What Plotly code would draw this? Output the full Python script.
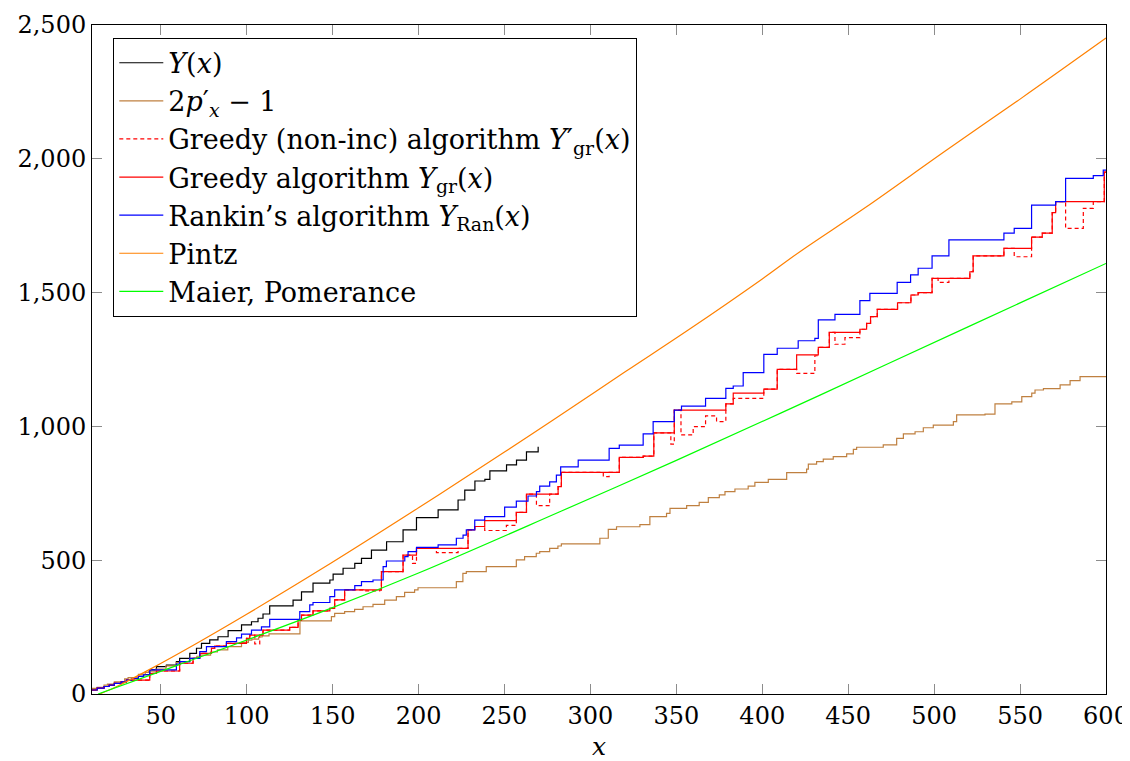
import plotly.graph_objects as go

# ---------------- data ----------------
# Y(x)  (step function, value holds from x[i] to x[i+1])
Y_x = [10, 13, 17, 20, 23, 27, 30, 33, 37, 40, 43.6, 47.5, 53.3, 59.1, 61.0, 66.9, 70.8, 73.7, 78.5, 83.3,
       89.2, 97.0, 102.8, 106.6, 109.5, 113.4, 127.0, 131.9, 138.6, 148.4, 150.3, 156.1, 162.9, 166.8, 172.6,
       181.4, 191.0, 198.8, 211.4, 223.0, 226.9, 232.8, 238.6, 241.5, 251.2, 257.0, 262.8, 269.6]
Y_y = [15, 22, 28, 33, 40, 45, 52, 58, 66, 72, 90, 102, 108, 121, 133, 152, 171, 189, 202, 214,
       237, 258, 270, 283, 299, 329, 351, 382, 414, 426, 448, 470, 488, 507, 538,
       569, 613, 659, 688, 725, 762, 796, 802, 834, 856, 874, 905, 924]

# 2p'_x - 1
P_x = [10, 13, 17, 19, 23, 29, 31, 37, 41, 43, 47, 53, 59, 61, 67, 71, 73, 79, 83, 89,
       97, 101, 103, 107, 109, 113, 131, 149.3, 151.2, 157.0, 162.8, 167.7, 173.5, 180.3, 187.1, 191.9,
       197.7, 199.7, 222.0, 225.8, 227.8, 239.4, 256.9, 261.7, 268.5, 270.5, 276.3, 281.1, 283.1, 305.5,
       310.4, 315.2, 328.8, 334.6, 344.3, 346.3, 356.0, 363.3, 368.6, 375.0, 378.3, 384.1, 391.8, 395.7,
       403.5, 414.2, 425.8, 426.8, 431.6, 435.5, 441.3, 449.1, 453.0, 454.9, 470.4, 478.2, 482.1, 488.9,
       493.7, 499.5, 511.2, 513.1, 529.6, 535.4, 545.2, 551.0, 556.8, 558.7, 563.6, 573.3, 579.1, 584.9, 600]
P_y = [21, 25, 33, 37, 45, 57, 61, 73, 81, 85, 93, 105, 117, 121, 133, 141, 145, 157, 165, 177,
       193, 201, 205, 213, 217, 225, 273, 289, 301, 308, 316, 326, 335, 351, 364, 380,
       389, 397, 420, 451, 457, 476, 501, 513, 526, 532, 544, 553, 561, 582,
       615, 625, 633, 663, 675, 694, 704, 716, 734, 744, 756, 766, 777, 791,
       802, 827, 840, 859, 868, 878, 887, 897, 914, 922, 931, 955, 972, 980,
       995, 1005, 1018, 1043, 1046, 1084, 1092, 1111, 1124, 1136, 1141, 1155, 1171, 1186, 1186]

# Greedy (non-inc) algorithm Y'_gr(x)
GN_x = [10, 13, 17, 20, 23, 27, 30, 43.6, 47.5, 61.0, 68.8, 72.7, 79.5, 81.4, 88.2, 99.9, 101.8, 104.7,
        107.6, 109.5, 125.0, 129.9, 131.9, 138.6, 148.4, 151.2, 157.0, 167.7, 177.4, 178.4, 191.0, 196.5,
        198.8, 210.4, 223.0, 228.8, 232.7, 238.5, 251.1, 256.9, 262.8, 268.6, 276.3, 281.2, 283.1, 307.5,
        310.9, 316.8, 330.7, 336.9, 346.8, 348.8, 352.7, 359.8, 367.0, 373.4, 378.8, 383.1, 400.9, 408.7,
        420.0, 430.6, 432.6, 439.0, 442.3, 448.1, 456.8, 460.7, 463.0, 466.9, 478.7, 486.5, 490.7, 498.8,
        502.3, 508.6, 520.8, 522.7, 540.6, 546.6, 556.7, 562.9, 568.7, 570.7, 576.5, 586.8, 592.6, 599.0, 600]
GN_y = [15, 22, 28, 33, 40, 45, 52, 77, 86, 115, 133, 152, 171, 179, 189, 208, 220, 187,
        220, 239, 249, 276, 295, 311, 320, 352, 389, 385, 389, 457, 519, 488,
        544, 528, 544, 613, 626, 611, 630, 679, 747, 704, 747, 775, 828, 812,
        828, 884, 889, 976, 934, 1061, 968, 999, 1039, 1018, 1084, 1105, 1139, 1213,
        1198, 1264, 1295, 1351, 1307, 1332, 1363, 1385, 1410, 1437, 1462, 1491, 1500, 1553,
        1538, 1553, 1578, 1637, 1665, 1634, 1707, 1722, 1799, 1840, 1740, 1815, 1840, 1950, 1950]

# Greedy algorithm Y_gr(x)
G_x = [10, 13, 17, 20, 23, 27, 30, 43.6, 47.5, 61.0, 68.8, 72.7, 79.5, 81.4, 88.2, 99.9, 101.8, 109.5,
       125.0, 129.9, 131.9, 138.6, 148.4, 151.2, 157.0, 178.4, 191.0, 198.8, 228.8, 232.7, 238.5, 256.9,
       262.8, 281.2, 283.1, 316.8, 330.7, 336.9, 348.8, 378.8, 383.1, 400.9, 408.7, 420.0, 432.6, 439.0,
       456.8, 460.7, 463.0, 466.9, 478.7, 486.5, 490.7, 498.8, 520.8, 522.7, 540.6, 556.7, 562.9, 568.7,
       570.7, 599.0, 600]
G_y = [15, 22, 28, 33, 40, 45, 52, 77, 86, 115, 133, 152, 171, 179, 189, 208, 220, 239,
       249, 276, 295, 311, 320, 352, 389, 457, 519, 544, 613, 626, 648, 679,
       747, 775, 828, 884, 889, 976, 1061, 1084, 1124, 1139, 1213, 1267, 1295, 1351,
       1363, 1385, 1410, 1437, 1462, 1491, 1500, 1553, 1578, 1637, 1665, 1707, 1722, 1799,
       1840, 1950, 1950]

# Rankin's algorithm Y_Ran(x)
R_x = [10, 13, 17, 20, 23, 27, 30, 33, 37, 40, 43.6, 59.1, 61.0, 66.9, 72.7, 76.6, 88.2, 94.1, 97.0, 102.8,
       108.6, 113.4, 130.9, 136.7, 138.6, 148.4, 151.2, 162.9, 166.8, 173.5, 179.4, 181.3, 192.0, 193.9,
       198.8, 211.4, 222.0, 225.9, 227.8, 232.7, 238.5, 250.1, 256.9, 263.7, 268.6, 270.5, 276.3, 280.2,
       282.7, 292.9, 310.9, 316.8, 330.7, 336.5, 348.8, 353.0, 367.0, 378.8, 383.1, 388.9, 400.9, 408.7,
       420.9, 430.6, 432.6, 442.3, 456.8, 462.6, 478.5, 486.3, 490.7, 498.8, 508.6, 540.6, 546.6, 556.7,
       570.7, 576.5, 592.6, 598.4, 600]
R_y = [15, 22, 28, 33, 40, 45, 52, 58, 66, 72, 90, 112, 121, 133, 158, 177, 196, 210, 224, 239,
       251, 279, 308, 333, 342, 364, 389, 405, 420, 426, 476, 497, 513, 532,
       548, 557, 582, 594, 613, 650, 663, 698, 721, 740, 756, 777, 793, 818,
       849, 874, 918, 930, 972, 1018, 1061, 1076, 1105, 1142, 1151, 1201, 1269, 1292,
       1320, 1329, 1398, 1419, 1470, 1497, 1538, 1566, 1591, 1637, 1697, 1722, 1740, 1827,
       1840, 1927, 1937, 1958, 1958]

# Pintz (smooth curve)
PZ_x = [14.5, 25, 43.6, 70, 100, 142.5, 200, 250, 278.3, 320, 356.9, 400, 421.9, 460, 507.3, 550, 600]
PZ_y = [0, 30, 92, 186, 298, 463, 696, 904, 1024, 1203, 1360, 1551, 1653, 1818, 2033, 2223, 2451]

# Maier, Pomerance (smooth curve)
MP_x = [13.5, 60, 142.5, 200, 282.2, 350, 433.6, 520, 600]
MP_y = [0, 108, 304, 452, 681, 873, 1117, 1373, 1609]

X_TICKS = [50, 100, 150, 200, 250, 300, 350, 400, 450, 500, 550, 600]
Y_TICKS = [0, 500, 1000, 1500, 2000, 2500]

# ---------------- figure ----------------
FONT = "DejaVu Serif"
LW = 1.2

fig = go.Figure()


def add(x, y, name, color, shape="hv", dash="solid"):
    fig.add_trace(go.Scatter(x=x, y=y, name=name, mode="lines",
                             line=dict(color=color, width=LW, shape=shape, dash=dash)))


add(Y_x, Y_y, "<i>Y</i>(<i>x</i>)", "#000000")
add(P_x, P_y, "2<i>p</i>′<sub><i>x</i></sub> − 1", "#bf8040")
add(GN_x, GN_y, "Greedy (non-inc) algorithm <i>Y</i>′<sub>gr</sub>(<i>x</i>)", "#ff0000", dash="4px,3px")
add(G_x, G_y, "Greedy algorithm <i>Y</i><sub>gr</sub>(<i>x</i>)", "#ff0000")
add(R_x, R_y, "Rankin’s algorithm <i>Y</i><sub>Ran</sub>(<i>x</i>)", "#0000ff")
add(PZ_x, PZ_y, "Pintz", "#ff8000", shape="spline")
add(MP_x, MP_y, "Maier, Pomerance", "#00ff00", shape="spline")

fig.update_layout(
    width=1122, height=753,
    margin=dict(l=84, r=24, t=17, b=67),
    paper_bgcolor="white", plot_bgcolor="white",
    font=dict(family=FONT, size=24),
    showlegend=True,
    legend=dict(x=0.021, y=0.981, xanchor="left", yanchor="top",
                bordercolor="black", borderwidth=1, bgcolor="white",
                font=dict(family=FONT, size=27),
                itemwidth=44, tracegroupgap=0),
    xaxis=dict(range=[10, 600], tickvals=X_TICKS,
               showgrid=False, zeroline=False, showline=True, linecolor="black", linewidth=1,
               mirror="allticks", ticks="inside", ticklen=10, tickcolor="#8c8c8c", tickwidth=1,
               tickfont=dict(family=FONT, size=24), automargin=False,
               title=dict(text="<i>x</i>", font=dict(family=FONT, size=25), standoff=8)),
    yaxis=dict(range=[0, 2500], tickvals=Y_TICKS, tickformat=",d",
               showgrid=False, zeroline=False, showline=True, linecolor="black", linewidth=1,
               mirror="allticks", ticks="inside", ticklen=10, tickcolor="#8c8c8c", tickwidth=1,
               tickfont=dict(family=FONT, size=24), automargin=False),
)

# make all texts black through a stylesheet (keeps the serif family applied)
POST = ("var s=document.createElement('style');"
        "s.textContent='.main-svg text{fill:#000000 !important;}';"
        "document.head.appendChild(s);")

fig.write_html("out.html", post_script=POST)
